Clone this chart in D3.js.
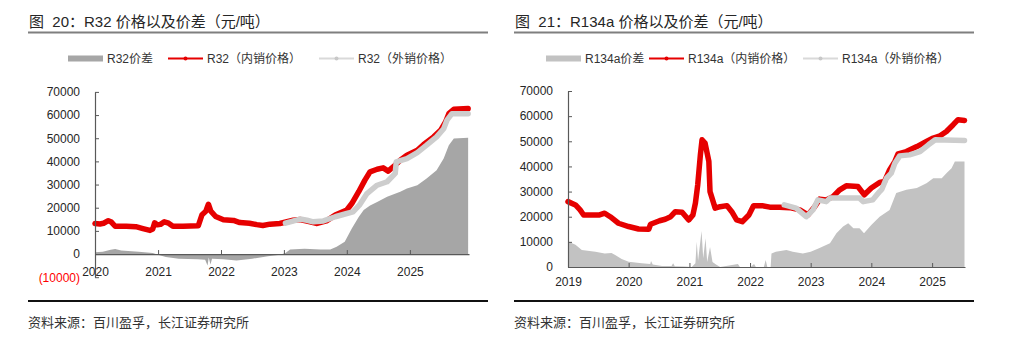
<!DOCTYPE html>
<html>
<head>
<meta charset="utf-8">
<script src="https://cdn.jsdelivr.net/npm/d3@7/dist/d3.min.js"></script>
<style>
    body { margin: 0; background: #fff; }
    svg { display: block; font-family: 'Liberation Sans', 'Noto Sans CJK SC', sans-serif; }
</style>
</head>
<body>
<svg id="chart" width="1024" height="353"></svg>
<script>
// ---- data: R32 ----
const r32Inner = [
    ['2020-01-01', 13200], ['2020-01-30', 13000], ['2020-02-20', 13300], ['2020-03-18', 14400],
    ['2020-04-05', 13800], ['2020-04-27', 12000], ['2020-07-01', 12000], ['2020-08-25', 11800],
    ['2020-10-05', 11000], ['2020-11-15', 10200], ['2020-12-01', 10800], ['2020-12-12', 13500],
    ['2020-12-28', 12600], ['2021-01-15', 12800], ['2021-02-06', 13900], ['2021-03-03', 13300],
    ['2021-03-28', 12000], ['2021-05-26', 12000], ['2021-08-22', 12200], ['2021-09-13', 17000],
    ['2021-10-05', 18500], ['2021-10-20', 21500], ['2021-11-03', 18500], ['2021-12-01', 16200],
    ['2022-01-15', 14800], ['2022-03-15', 14500], ['2022-04-20', 13600], ['2022-06-15', 13300],
    ['2022-07-28', 12700], ['2022-09-01', 12300], ['2022-10-12', 12900], ['2022-12-08', 13200],
    ['2023-02-24', 14600], ['2023-04-05', 14900], ['2023-06-02', 13900], ['2023-07-08', 13200],
    ['2023-09-05', 14300], ['2023-10-26', 16800], ['2024-01-01', 19000], ['2024-01-30', 21800],
    ['2024-03-10', 26900], ['2024-04-15', 31900], ['2024-05-15', 35500], ['2024-06-25', 36600],
    ['2024-07-30', 37200], ['2024-08-28', 35800], ['2024-10-08', 38400], ['2024-11-06', 40500],
    ['2024-12-15', 42700], ['2025-02-13', 44800], ['2025-03-22', 47300], ['2025-05-19', 50600],
    ['2025-06-28', 53400], ['2025-07-27', 57000], ['2025-08-15', 60600], ['2025-09-13', 62500],
    ['2025-12-05', 62800]
];
const r32Outer = [
    ['2023-01-10', 13300], ['2023-02-06', 13900], ['2023-04-05', 15100], ['2023-05-15', 14600],
    ['2023-06-20', 13900], ['2023-08-18', 14300], ['2023-10-26', 16100], ['2024-01-01', 17500],
    ['2024-02-06', 18200], ['2024-03-14', 21100], ['2024-04-27', 26100], ['2024-06-25', 29700],
    ['2024-08-22', 31200], ['2024-10-08', 34800], ['2024-10-14', 39800], ['2024-12-15', 41200],
    ['2025-02-13', 43800], ['2025-04-08', 47000], ['2025-06-05', 50600], ['2025-07-16', 54100],
    ['2025-08-04', 57800], ['2025-09-02', 60600], ['2025-12-05', 60600]
];
const r32Spread = [
    ['2020-01-01', 800], ['2020-02-15', 1000], ['2020-04-01', 1800], ['2020-04-27', 2200],
    ['2020-06-01', 1500], ['2020-09-10', 1000], ['2020-12-01', 500], ['2021-01-10', -500],
    ['2021-02-15', -1300], ['2021-05-01', -2000], ['2021-08-20', -2200], ['2021-10-01', -2500],
    ['2021-10-15', -5000], ['2021-10-22', -1500], ['2021-11-01', -4500], ['2021-11-10', -2000],
    ['2022-01-15', -2300], ['2022-04-01', -2800], ['2022-07-01', -2000], ['2022-10-01', -1000],
    ['2022-12-10', -300], ['2023-01-10', 500], ['2023-02-06', 2000], ['2023-05-01', 2300],
    ['2023-08-01', 2000], ['2023-09-27', 2000], ['2023-11-03', 3100], ['2023-12-20', 5300],
    ['2024-01-30', 11000], ['2024-03-10', 16000], ['2024-04-08', 19000], ['2024-05-15', 21000],
    ['2024-06-25', 22500], ['2024-08-22', 24700], ['2024-11-06', 26900], ['2024-12-15', 28300],
    ['2025-02-13', 29700], ['2025-04-08', 32600], ['2025-06-05', 36200], ['2025-07-16', 41200],
    ['2025-08-15', 47000], ['2025-09-13', 49900], ['2025-12-05', 50200]
];

// ---- data: R134a ----
const r134aInner = [
    ['2019-01-01', 26000], ['2019-02-15', 24700], ['2019-03-15', 22700], ['2019-04-05', 20700],
    ['2019-07-10', 20700], ['2019-08-10', 21400], ['2019-09-12', 20000], ['2019-11-01', 17400],
    ['2020-01-01', 16100], ['2020-03-01', 15100], ['2020-05-01', 15000], ['2020-05-12', 17000],
    ['2020-07-05', 18400], ['2020-08-08', 19000], ['2020-09-10', 20000], ['2020-10-08', 22000],
    ['2020-11-18', 21800], ['2020-12-28', 18700], ['2021-01-22', 20700], ['2021-02-06', 25400],
    ['2021-02-20', 32700], ['2021-03-08', 44600], ['2021-03-18', 50600], ['2021-04-05', 49300],
    ['2021-04-28', 42000], ['2021-05-05', 30000], ['2021-06-05', 23400], ['2021-07-05', 24000],
    ['2021-08-15', 24400], ['2021-09-13', 22000], ['2021-10-12', 18700], ['2021-11-15', 18000],
    ['2021-12-25', 20700], ['2022-01-22', 24400], ['2022-03-15', 24400], ['2022-04-30', 23800],
    ['2022-06-28', 23800], ['2022-08-28', 23600], ['2022-10-27', 22700], ['2022-12-15', 20700],
    ['2023-01-25', 24000], ['2023-02-24', 27000], ['2023-04-05', 26700], ['2023-05-15', 28000],
    ['2023-06-25', 30700], ['2023-08-03', 32300], ['2023-10-12', 32000], ['2023-11-20', 28700],
    ['2024-01-01', 31400], ['2024-02-20', 33600], ['2024-03-20', 34000], ['2024-04-20', 38600],
    ['2024-05-22', 42000], ['2024-06-10', 45000], ['2024-07-30', 45900], ['2024-10-01', 47900],
    ['2024-11-28', 49900], ['2025-01-08', 51300], ['2025-02-18', 52200], ['2025-03-28', 53900],
    ['2025-05-08', 56600], ['2025-06-06', 58600], ['2025-07-15', 58300]
];
const r134aOuter = [
    ['2022-07-26', 24700], ['2022-10-05', 23400], ['2022-12-05', 20000], ['2023-01-15', 22700],
    ['2023-02-13', 26700], ['2023-04-05', 26000], ['2023-04-27', 27400], ['2023-10-22', 27400],
    ['2023-11-14', 26000], ['2024-01-10', 26700], ['2024-02-20', 30000], ['2024-03-05', 31000],
    ['2024-04-01', 35300], ['2024-04-30', 37300], ['2024-05-22', 41300], ['2024-06-20', 44200],
    ['2024-08-18', 44600], ['2024-10-20', 45900], ['2024-12-10', 48600], ['2025-01-20', 50600],
    ['2025-07-15', 50300]
];
const r134aSpread = [
    ['2019-01-01', 10100], ['2019-02-15', 8800], ['2019-03-25', 6800], ['2019-06-15', 6100],
    ['2019-08-10', 5400], ['2019-09-20', 5600], ['2019-10-12', 4800], ['2019-11-20', 3200],
    ['2020-01-01', 2100], ['2020-03-20', 1500], ['2020-05-10', 1200], ['2020-05-15', 2400],
    ['2020-05-25', 1000], ['2020-07-20', 400], ['2020-09-15', 400], ['2020-09-25', 1500],
    ['2020-10-05', 300], ['2020-12-05', 200], ['2021-01-15', 0], ['2021-02-06', 1500],
    ['2021-02-14', 10000], ['2021-02-22', 2500], ['2021-03-15', 14300], ['2021-03-25', 3500],
    ['2021-04-08', 11400], ['2021-04-18', 2000], ['2021-05-05', 8000], ['2021-05-20', 2000],
    ['2021-06-10', 1000], ['2021-07-05', 0], ['2021-10-20', 1200], ['2021-11-01', 0],
    ['2021-12-30', -300], ['2022-01-25', 1200], ['2022-02-05', 0], ['2022-03-25', 0],
    ['2022-04-05', 2800], ['2022-04-15', 0], ['2022-05-05', 0], ['2022-05-10', 5400],
    ['2022-06-05', 6100], ['2022-08-08', 6800], ['2022-09-15', 6100], ['2022-11-15', 5400],
    ['2023-01-01', 6100], ['2023-02-20', 7500], ['2023-04-27', 9400], ['2023-06-05', 13400],
    ['2023-07-15', 16100], ['2023-08-15', 17400], ['2023-09-15', 15400], ['2023-10-22', 15400],
    ['2023-11-18', 13400], ['2024-01-01', 16700], ['2024-02-20', 20000], ['2024-04-20', 22700],
    ['2024-05-30', 29400], ['2024-07-30', 30700], ['2024-10-01', 31400], ['2024-11-28', 33300],
    ['2025-01-08', 35300], ['2025-02-28', 35300], ['2025-03-28', 37300], ['2025-04-28', 39300],
    ['2025-05-18', 42000], ['2025-07-15', 42000]
];

// ---- axis ticks ----
const r32YTicks = [-10000, 0, 10000, 20000, 30000, 40000, 50000, 60000, 70000];
const r134aYTicks = [0, 10000, 20000, 30000, 40000, 50000, 60000, 70000];
const r32Years = ['2020', '2021', '2022', '2023', '2024', '2025'];
const r134aYears = ['2019', '2020', '2021', '2022', '2023', '2024', '2025'];

const RED = '#e60000';
const OUTER_GRAY = '#cdcdcd';
const parseDate = d3.timeParse('%Y-%m-%d');
const parseYear = d3.timeParse('%Y');
const svg = d3.select('#chart');

drawPanel(svg, {
    left: 28,
    title: '图  20：R32 价格以及价差（元/吨）',
    legendNames: ['R32价差', 'R32（内销价格）', 'R32（外销价格）'],
    legendX: [68, 168, 319],
    spreadColor: '#a6a6a6',
    inner: r32Inner, outer: r32Outer, spread: r32Spread,
    xDomain: ['2020-01-01', '2025-12-10'], xRange: [95, 469],
    yDomain: [-10000, 70000], yRange: [277.2, 91.9],
    yTicks: r32YTicks, years: r32Years, xPad: 13
});

drawPanel(svg, {
    left: 514,
    title: '图  21：R134a 价格以及价差（元/吨）',
    legendNames: ['R134a价差', 'R134a（内销价格）', 'R134a（外销价格）'],
    legendX: [546, 649, 803],
    spreadColor: '#c2c2c2',
    inner: r134aInner, outer: r134aOuter, spread: r134aSpread,
    xDomain: ['2019-01-01', '2025-07-18'], xRange: [568, 965],
    yDomain: [0, 70000], yRange: [267, 91],
    yTicks: r134aYTicks, years: r134aYears, xPad: 10
});

function drawPanel(svg, p) {
    const g = svg.append('g');

    // Title and rules
    g.append('text')
        .attr('x', p.left + 1)
        .attr('y', 27)
        .attr('font-size', 15)
        .attr('fill', '#262626')
        .style('white-space', 'pre')
        .text(p.title);
    g.append('line')
        .attr('x1', p.left).attr('x2', p.left + 460)
        .attr('y1', 32.5).attr('y2', 32.5)
        .attr('stroke', '#7f7f7f')
        .attr('stroke-width', 2);
    g.append('line')
        .attr('x1', p.left).attr('x2', p.left + 460)
        .attr('y1', 301).attr('y2', 301)
        .attr('stroke', '#111')
        .attr('stroke-width', 2);
    g.append('text')
        .attr('x', p.left)
        .attr('y', 326.5)
        .attr('font-size', 13)
        .attr('fill', '#333')
        .text('资料来源：百川盈孚，长江证券研究所');

    const x = d3.scaleTime()
        .domain(p.xDomain.map(parseDate))
        .range(p.xRange);
    const y = d3.scaleLinear()
        .domain(p.yDomain)
        .range(p.yRange);

    // Spread area
    const area = d3.area()
        .x(d => x(parseDate(d[0])))
        .y0(y(0))
        .y1(d => y(d[1]));
    g.append('path')
        .datum(p.spread)
        .attr('d', area)
        .attr('fill', p.spreadColor);

    // Price lines, export drawn over domestic
    const line = d3.line()
        .x(d => x(parseDate(d[0])))
        .y(d => y(d[1]));
    [[p.inner, RED], [p.outer, OUTER_GRAY]].forEach(([data, color]) => {
        g.append('path')
            .datum(data)
            .attr('d', line)
            .attr('fill', 'none')
            .attr('stroke', color)
            .attr('stroke-width', 5.5)
            .attr('stroke-linejoin', 'round')
            .attr('stroke-linecap', 'round');
    });

    // Axes
    const yAxis = d3.axisLeft(y)
        .tickValues(p.yTicks)
        .tickSize(-4)
        .tickSizeOuter(0)
        .tickPadding(15)
        .tickFormat(d => d < 0 ? `(${-d})` : d);
    const ya = g.append('g')
        .attr('transform', `translate(${p.xRange[0]},0)`)
        .call(yAxis);
    ya.selectAll('text')
        .attr('font-size', 12)
        .attr('font-family', 'Liberation Sans, sans-serif')
        .attr('fill', d => d < 0 ? '#ff0000' : '#262626');

    const xAxis = d3.axisBottom(x)
        .tickValues(p.years.map(parseYear))
        .tickFormat(d3.timeFormat('%Y'))
        .tickSize(-4)
        .tickSizeOuter(0)
        .tickPadding(p.xPad);
    const xa = g.append('g')
        .attr('transform', `translate(0,${y(0)})`)
        .call(xAxis);
    xa.selectAll('text')
        .attr('font-size', 12)
        .attr('font-family', 'Liberation Sans, sans-serif')
        .attr('fill', '#262626');

    [ya, xa].forEach(a => {
        a.select('.domain').attr('stroke', '#595959').attr('stroke-width', 1.2);
        a.selectAll('.tick line').attr('stroke', '#595959');
    });

    // Legend
    const ly = 58.5;
    const lg = g.append('g').attr('font-size', 12).attr('fill', '#333');
    lg.append('rect')
        .attr('x', p.legendX[0]).attr('y', ly - 3)
        .attr('width', 35).attr('height', 6)
        .attr('fill', p.spreadColor);
    [[p.legendX[1], RED, '#e60000'], [p.legendX[2], '#d9d9d9', '#c8c8c8']].forEach(([lx, c, mc]) => {
        lg.append('line')
            .attr('x1', lx).attr('x2', lx + 35)
            .attr('y1', ly).attr('y2', ly)
            .attr('stroke', c)
            .attr('stroke-width', 2);
        lg.append('circle')
            .attr('cx', lx + 17.5).attr('cy', ly)
            .attr('r', 2)
            .attr('fill', mc);
    });
    p.legendX.forEach((lx, i) => {
        lg.append('text')
            .attr('x', lx + 39)
            .attr('y', ly + 4)
            .text(p.legendNames[i]);
    });
}
</script>
</body>
</html>
